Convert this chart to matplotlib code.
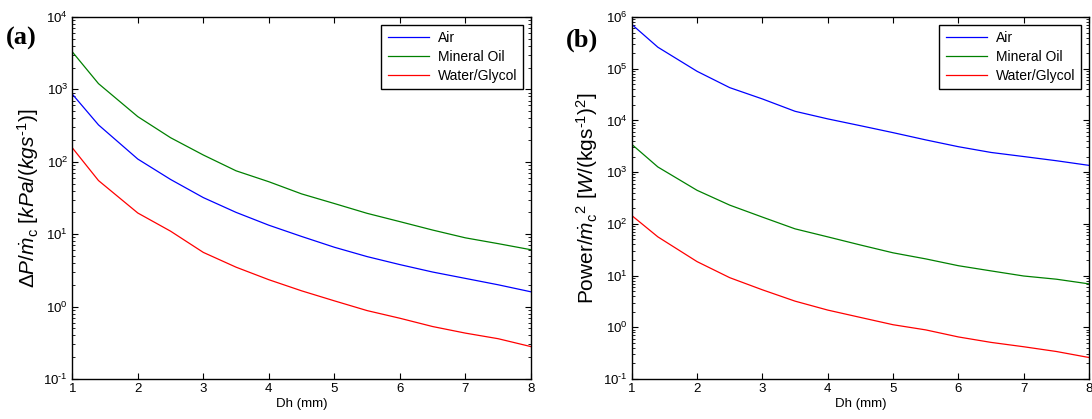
import matplotlib
matplotlib.use("Agg")
import matplotlib.pyplot as plt
from matplotlib.ticker import LogLocator, NullFormatter, FuncFormatter
import numpy as np

plt.rcParams['font.family'] = ['Liberation Sans', 'DejaVu Sans']
plt.rcParams['mathtext.fontset'] = 'custom'
plt.rcParams['mathtext.rm'] = 'Liberation Sans'
plt.rcParams['mathtext.it'] = 'Liberation Sans:italic'
plt.rcParams['mathtext.bf'] = 'Liberation Sans:bold'
plt.rcParams['axes.unicode_minus'] = False

# Data
dh = [1, 1.4, 2, 2.5, 3, 3.5, 4, 4.5, 5, 5.5, 6, 6.5, 7, 7.5, 8]
series_names = ["Air", "Mineral Oil", "Water/Glycol"]

dp_air = [860, 323, 109, 57, 32, 20, 13.3, 9.3, 6.6, 4.9, 3.8, 3.0, 2.45, 2.0, 1.6]
dp_oil = [3300, 1200, 420, 215, 124, 75, 53, 36, 26.5, 19.4, 14.9, 11.4, 8.9, 7.4, 6.1]
dp_wg = [156, 55, 19.6, 11, 5.6, 3.5, 2.35, 1.65, 1.2, 0.88, 0.69, 0.53, 0.43, 0.36, 0.28]

pw_air = [7.2e5, 2.6e5, 8.9e4, 4.3e4, 2.6e4, 1.5e4, 1.07e4, 7.9e3, 5.8e3, 4.2e3, 3.1e3, 2.4e3, 2.0e3, 1.66e3, 1.35e3]
pw_oil = [3450, 1260, 445, 230, 135, 80, 56, 39, 27.5, 21, 15.5, 12.3, 9.8, 8.5, 6.9]
pw_wg = [145, 56, 18.6, 9.1, 5.3, 3.2, 2.15, 1.55, 1.12, 0.89, 0.65, 0.51, 0.42, 0.34, 0.26]

xticks = [1, 2, 3, 4, 5, 6, 7, 8]
colors = ["#0000ff", "#008000", "#ff0000"]


def log_fmt(v, pos):
    e = int(round(np.log10(v)))
    if e < 0:
        return r'$\mathdefault{10^{\text{-}%d}}$' % (-e)
    return r'$\mathdefault{10^{%d}}$' % e


fig = plt.figure(figsize=(10.92, 4.19), dpi=100)
ax1 = fig.add_axes([0.0662, 0.0955, 0.4200, 0.8640])
ax2 = fig.add_axes([0.5785, 0.0955, 0.4188, 0.8640])

def style(ax, ylim):
    ax.set_yscale('log')
    ax.set_xlim(1, 8)
    ax.set_ylim(*ylim)
    ax.set_xticks(xticks)
    ax.set_xticklabels([str(t) for t in xticks])
    ax.yaxis.set_major_locator(LogLocator(base=10, numticks=20))
    ax.yaxis.set_major_formatter(FuncFormatter(log_fmt))
    ax.yaxis.set_minor_locator(LogLocator(base=10, subs=np.arange(2, 10), numticks=20))
    ax.yaxis.set_minor_formatter(NullFormatter())
    ax.tick_params(which='both', direction='in', top=True, right=True, labelsize=9.5)
    ax.tick_params(which='major', length=4, width=0.8, pad=3)
    ax.tick_params(which='minor', length=2, width=0.6)
    for s in ax.spines.values():
        s.set_linewidth(1.0)
    ax.set_xlabel("Dh (mm)", fontsize=9.5, labelpad=2)
    leg = ax.legend(loc='upper right', fontsize=10, fancybox=False, framealpha=1,
                    edgecolor='black', handlelength=3.0, borderpad=0.45,
                    labelspacing=0.35, borderaxespad=0.55, handletextpad=0.6)
    leg.get_frame().set_linewidth(1.0)

for vals, c, n in zip([dp_air, dp_oil, dp_wg], colors, series_names):
    ax1.plot(dh, vals, color=c, lw=0.9, label=n)
for vals, c, n in zip([pw_air, pw_oil, pw_wg], colors, series_names):
    ax2.plot(dh, vals, color=c, lw=0.9, label=n)

style(ax1, (1e-1, 1e4))
style(ax2, (1e-1, 1e6))

ax1.set_ylabel(r'$\mathit{\Delta P/\dot{m}}_{\mathrm{c}}$ [$\mathit{kPa/(kgs}^{\text{-}1}\mathit{)}$]',
               fontsize=15, labelpad=2)
ax2.set_ylabel(r'Power/$\mathit{\dot{m}}_{\mathrm{c}}$$^{2}$ [$\mathit{W}$/(kgs$^{\text{-}1}$)$^{2}$]',
               fontsize=15, labelpad=2)

fig.text(0.005, 0.908, "(a)", fontsize=19, fontweight='bold', family='Liberation Serif', va='center')
fig.text(0.518, 0.904, "(b)", fontsize=19, fontweight='bold', family='Liberation Serif', va='center')

fig.savefig("out.png", dpi=100)
